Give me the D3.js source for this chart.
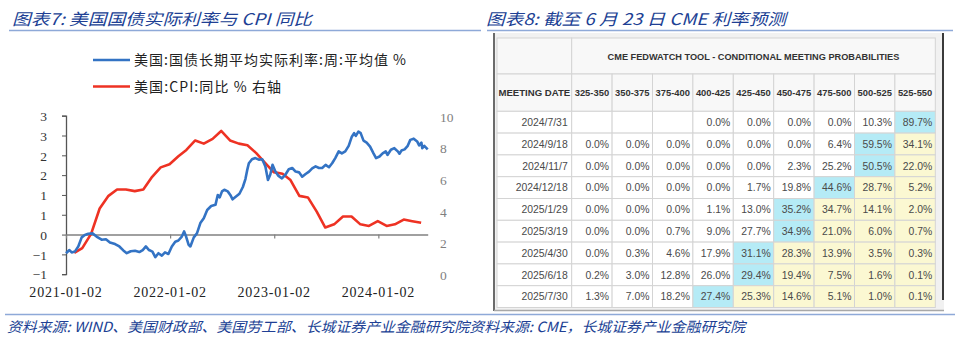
<!DOCTYPE html>
<html><head><meta charset="utf-8">
<script src="https://cdn.jsdelivr.net/npm/d3@7"></script>
<style>
body{margin:0;background:#fff;}
svg{display:block;}
</style></head>
<body><svg id="c" width="960" height="341"></svg>
<script>
// ---------- Left chart data ----------
const blueDates = ["2021-01-02","2021-01-14","2021-01-22","2021-02-02","2021-02-14","2021-02-26","2021-03-09","2021-03-21","2021-04-05","2021-04-19","2021-05-07","2021-05-22","2021-06-05","2021-06-23","2021-07-08","2021-07-22","2021-08-03","2021-08-17","2021-09-01","2021-09-16","2021-09-28","2021-10-09","2021-10-20","2021-11-01","2021-11-11","2021-11-22","2021-12-04","2021-12-15","2021-12-27","2022-01-08","2022-01-20","2022-01-31","2022-02-12","2022-02-20","2022-02-27","2022-03-08","2022-03-14","2022-03-26","2022-04-06","2022-04-18","2022-04-30","2022-05-12","2022-05-26","2022-06-10","2022-06-18","2022-06-25","2022-07-03","2022-07-11","2022-07-23","2022-08-01","2022-08-09","2022-08-21","2022-09-02","2022-09-14","2022-09-23","2022-09-29","2022-10-05","2022-10-16","2022-10-28","2022-11-09","2022-11-21","2022-12-02","2022-12-11","2022-12-19","2022-12-27","2023-01-06","2023-01-17","2023-01-29","2023-02-10","2023-02-22","2023-03-06","2023-03-18","2023-03-30","2023-04-10","2023-04-22","2023-05-04","2023-05-15","2023-05-27","2023-06-08","2023-06-19","2023-07-01","2023-07-13","2023-07-24","2023-08-04","2023-08-16","2023-08-27","2023-09-08","2023-09-20","2023-10-01","2023-10-09","2023-10-15","2023-10-24","2023-11-01","2023-11-11","2023-11-22","2023-12-04","2023-12-16","2023-12-25","2024-01-06","2024-01-17","2024-01-28","2024-02-03","2024-02-15","2024-02-27","2024-03-10","2024-03-16","2024-03-23","2024-04-03","2024-04-14","2024-04-23","2024-05-05","2024-05-17","2024-05-24","2024-06-01","2024-06-04","2024-06-11","2024-06-23"];
const blueValues = [-0.47,-0.39,-0.45,-0.43,-0.30,-0.07,-0.01,0.02,0.03,-0.05,-0.13,-0.12,-0.20,-0.24,-0.30,-0.40,-0.47,-0.42,-0.41,-0.44,-0.39,-0.30,-0.39,-0.43,-0.57,-0.47,-0.53,-0.45,-0.49,-0.30,-0.18,-0.15,-0.05,0.08,-0.05,-0.26,-0.30,-0.07,0.03,0.29,0.41,0.62,0.72,0.75,1.00,0.94,1.09,1.13,1.09,1.00,0.89,0.96,1.03,1.20,1.40,1.62,1.80,1.90,1.93,1.89,1.90,1.72,1.38,1.51,1.76,1.59,1.48,1.42,1.51,1.65,1.68,1.59,1.57,1.46,1.53,1.59,1.67,1.72,1.68,1.68,1.76,1.70,1.80,1.93,2.10,2.05,2.10,2.24,2.47,2.56,2.49,2.60,2.56,2.37,2.32,2.22,2.05,1.93,1.97,2.05,2.10,2.01,2.14,2.18,2.10,2.04,2.12,2.15,2.24,2.39,2.42,2.35,2.25,2.32,2.18,2.24,2.15];

const cpiDates = ["2021-01-31","2021-02-28","2021-03-31","2021-04-30","2021-05-31","2021-06-30","2021-07-31","2021-08-31","2021-09-30","2021-10-31","2021-11-30","2021-12-31","2022-01-31","2022-02-28","2022-03-31","2022-04-30","2022-05-31","2022-06-30","2022-07-31","2022-08-31","2022-09-30","2022-10-31","2022-11-30","2022-12-31","2023-01-31","2023-02-28","2023-03-31","2023-04-30","2023-05-31","2023-06-30","2023-07-31","2023-08-31","2023-09-30","2023-10-31","2023-11-30","2023-12-31","2024-01-31","2024-02-29","2024-03-31","2024-04-30","2024-05-31"];
const cpiValues = [1.4,1.7,2.6,4.2,5.0,5.4,5.4,5.3,5.4,6.2,6.8,7.0,7.5,7.9,8.5,8.3,8.6,9.1,8.5,8.3,8.2,7.7,7.1,6.5,6.4,6.0,5.0,4.9,4.0,3.0,3.2,3.7,3.7,3.2,3.1,3.4,3.1,3.2,3.5,3.4,3.3];

const xTickDates = ["2021-01-02","2022-01-02","2023-01-02","2024-01-02"];
const leftTickValues = [-1,-0.5,0,0.5,1,1.5,2,2.5,3];
const leftTickLabels = ["\u22121","\u22121","0","1","1","2","2","3","3"];
const rightTickValues = [0,2,4,6,8,10];
const legendLabels = ["美国:国债长期平均实际利率:周:平均值 %","美国:CPI:同比 % 右轴"];

// ---------- Right table data ----------
const tableTitle = "CME FEDWATCH TOOL - CONDITIONAL MEETING PROBABILITIES";
const firstHeader = "MEETING DATE";
const rateRanges = ["325-350","350-375","375-400","400-425","425-450","450-475","475-500","500-525","525-550"];
const meetingDates = ["2024/7/31","2024/9/18","2024/11/7","2024/12/18","2025/1/29","2025/3/19","2025/4/30","2025/6/18","2025/7/30"];
const probs = [
 [null,null,null,0.0,0.0,0.0,0.0,10.3,89.7],
 [0.0,0.0,0.0,0.0,0.0,0.0,6.4,59.5,34.1],
 [0.0,0.0,0.0,0.0,0.0,2.3,25.2,50.5,22.0],
 [0.0,0.0,0.0,0.0,1.7,19.8,44.6,28.7,5.2],
 [0.0,0.0,0.0,1.1,13.0,35.2,34.7,14.1,2.0],
 [0.0,0.0,0.7,9.0,27.7,34.9,21.0,6.0,0.7],
 [0.0,0.3,4.6,17.9,31.1,28.3,13.9,3.5,0.3],
 [0.2,3.0,12.8,26.0,29.4,19.4,7.5,1.6,0.1],
 [1.3,7.0,18.2,27.4,25.3,14.6,5.1,1.0,0.1]
];

const titles = ["图表7:  美国国债实际利率与 CPI 同比","图表8:  截至 6 月 23 日 CME 利率预测"];
const sourceText = "资料来源:  WIND、美国财政部、美国劳工部、长城证券产业金融研究院资料来源:  CME，长城证券产业金融研究院";

// ---------- Drawing ----------
const svg = d3.select("#c");
const cjk = "'Noto Sans CJK SC','Noto Sans',sans-serif";
const serif = "'Liberation Serif','DejaVu Serif',serif";
const navy = "#203f94";
const ruleCol = "#8ea9d8";

// titles
svg.append("text").attr("x",12).attr("y",25).text(titles[0])
  .attr("font-family",cjk).attr("font-size",16).attr("font-style","italic").attr("fill",navy)
  .attr("textLength",300).attr("lengthAdjust","spacingAndGlyphs");
svg.append("text").attr("x",486).attr("y",25).text(titles[1])
  .attr("font-family",cjk).attr("font-size",16).attr("font-style","italic").attr("fill",navy)
  .attr("textLength",300).attr("lengthAdjust","spacingAndGlyphs");
svg.append("line").attr("x1",9).attr("x2",481).attr("y1",30.5).attr("y2",30.5).attr("stroke",ruleCol).attr("stroke-width",1.5);
svg.append("line").attr("x1",487).attr("x2",953).attr("y1",30.5).attr("y2",30.5).attr("stroke",ruleCol).attr("stroke-width",1.5);
svg.append("line").attr("x1",5).attr("x2",955).attr("y1",314.5).attr("y2",314.5).attr("stroke",ruleCol).attr("stroke-width",1.5);
svg.append("text").attr("x",7).attr("y",332).text(sourceText)
  .attr("font-family",cjk).attr("font-size",14).attr("font-style","italic").attr("fill",navy)
  .attr("textLength",738).attr("lengthAdjust","spacingAndGlyphs");

// left chart
const parse = d3.timeParse("%Y-%m-%d");
const x = d3.scaleTime().domain([parse("2021-01-02"),parse("2024-06-23")]).range([66,427.7]);
const yL = d3.scaleLinear().domain([-1,3]).range([274.2,115.7]);
const yR = d3.scaleLinear().domain([0,10]).range([275,116.7]);

const g = svg.append("g");
// left axis
const axL = g.append("g").attr("transform","translate(66,0)")
  .call(d3.axisLeft(yL).tickValues(leftTickValues).tickSize(4).tickPadding(15)
    .tickFormat((d,i)=>leftTickLabels[i]));
axL.select(".domain").attr("stroke","#555").attr("stroke-width",1.3);
axL.selectAll(".tick line").attr("stroke","#555");
axL.selectAll("text").attr("font-family",serif).attr("font-size",13.5).attr("fill","#333").attr("x",-19).attr("dy","0.35em");
// right axis (labels only)
const axR = g.append("g").attr("transform","translate(440,0)")
  .call(d3.axisRight(yR).tickValues(rightTickValues).tickSize(0).tickPadding(0));
axR.select(".domain").remove();
axR.selectAll("text").attr("font-family",serif).attr("font-size",13.5).attr("fill","#7f7f7f").attr("text-anchor","start");
// x axis at zero
const axX = g.append("g").attr("transform",`translate(0,${yL(0)})`)
  .call(d3.axisBottom(x).tickValues(xTickDates.map(parse)).tickSize(4).tickSizeOuter(0).tickFormat(()=>""));
axX.select(".domain").attr("stroke","#808080").attr("stroke-width",1.5);
axX.selectAll(".tick line").attr("stroke","#808080").attr("stroke-width",1.2);
g.selectAll("text.xl").data(xTickDates).enter().append("text").attr("class","xl")
  .attr("x",d=>x(parse(d))).attr("y",297).attr("text-anchor","middle").text(d=>d)
  .attr("font-family",serif).attr("font-size",14).attr("letter-spacing",0.8).attr("fill","#222");

// lines
const blueData = blueDates.map((d,i)=>({d:parse(d),v:blueValues[i]}));
const cpiData = cpiDates.map((d,i)=>({d:parse(d),v:cpiValues[i]}));
g.append("path").datum(cpiData).attr("fill","none").attr("stroke","#ee3223").attr("stroke-width",2.6)
  .attr("stroke-linejoin","round").attr("d",d3.line().x(p=>x(p.d)).y(p=>yR(p.v)));
g.append("path").datum(blueData).attr("fill","none").attr("stroke","#3373c4").attr("stroke-width",2.6)
  .attr("stroke-linejoin","round").attr("d",d3.line().x(p=>x(p.d)).y(p=>yL(p.v)));

// legend
const legCols = ["#3373c4","#ee3223"];
const legLens = [272,147];
legendLabels.forEach((t,i)=>{
  const yy = 60 + i*26.5;
  svg.append("line").attr("x1",93).attr("x2",130).attr("y1",yy).attr("y2",yy).attr("stroke",legCols[i]).attr("stroke-width",2.6);
  svg.append("text").attr("x",134).attr("y",yy+5).text(t).attr("font-family",cjk).attr("font-size",14).attr("fill","#222")
    .attr("textLength",legLens[i]).attr("lengthAdjust","spacing");
});

// ---------- table ----------
const T = svg.append("g");
// outer frame
T.append("rect").attr("x",493).attr("y",33).attr("width",451).attr("height",278).attr("fill","#f1f1f1");
T.append("line").attr("x1",494).attr("x2",494).attr("y1",33).attr("y2",311).attr("stroke","#6b6b6b").attr("stroke-width",2);
T.append("line").attr("x1",943).attr("x2",943).attr("y1",33).attr("y2",300).attr("stroke","#3a3a3a").attr("stroke-width",2);
T.append("line").attr("x1",494).attr("x2",944).attr("y1",310.5).attr("y2",310.5).attr("stroke","#a8a8a8").attr("stroke-width",1.5);

const tx0 = 497, c0w = 74.7, cw = 40.4;
const h1y = 38, h1h = 36, h2h = 37.3, rh = 21.8;
const colX = i => tx0 + c0w + i*cw;
const rowY = r => h1y + h1h + h2h + r*rh;
const border = "#d4d4d4";
const blueFill = "#b5ebf6", yellowFill = "#fbf8d2";

T.append("rect").attr("x",tx0).attr("y",h1y).attr("width",c0w+9*cw).attr("height",h1h+h2h+9*rh).attr("fill","#fff");
// header row 1
T.append("rect").attr("x",tx0).attr("y",h1y).attr("width",c0w).attr("height",h1h).attr("fill","#f8f8f8").attr("stroke",border);
T.append("rect").attr("x",colX(0)).attr("y",h1y).attr("width",9*cw).attr("height",h1h).attr("fill","#f8f8f8").attr("stroke",border);
const hfont = "'Liberation Sans',Arial,sans-serif";
T.append("text").attr("x",colX(0)+4.5*cw).attr("y",h1y+h1h/2+3.5).attr("text-anchor","middle").text(tableTitle)
  .attr("font-family",hfont).attr("font-size",9.2).attr("font-weight","bold").attr("fill","#333");
// header row 2
const h2y = h1y+h1h;
T.append("rect").attr("x",tx0).attr("y",h2y).attr("width",c0w).attr("height",h2h).attr("fill","#f8f8f8").attr("stroke",border);
T.append("text").attr("x",tx0+c0w/2).attr("y",h2y+h2h/2+3.5).attr("text-anchor","middle").text(firstHeader)
  .attr("font-family",hfont).attr("font-size",9.6).attr("font-weight","bold").attr("fill","#333");
rateRanges.forEach((r,i)=>{
  T.append("rect").attr("x",colX(i)).attr("y",h2y).attr("width",cw).attr("height",h2h).attr("fill","#f8f8f8").attr("stroke",border);
  T.append("text").attr("x",colX(i)+cw/2).attr("y",h2y+h2h/2+3.5).attr("text-anchor","middle").text(r)
    .attr("font-family",hfont).attr("font-size",9.4).attr("font-weight","bold").attr("fill","#333");
});
// data rows
meetingDates.forEach((md,r)=>{
  const y0 = rowY(r);
  const row = probs[r];
  let maxI = 0; row.forEach((v,i)=>{ if(v!==null && v>row[maxI]) maxI=i; });
  T.append("rect").attr("x",tx0).attr("y",y0).attr("width",c0w).attr("height",rh).attr("fill","#fff").attr("stroke",border);
  T.append("text").attr("x",tx0+c0w-4).attr("y",y0+rh/2+3.8).attr("text-anchor","end").text(md)
    .attr("font-family",hfont).attr("font-size",10.4).attr("fill","#4a4a4a");
  row.forEach((v,i)=>{
    const fill = i===maxI ? blueFill : (i>maxI ? yellowFill : "#fff");
    T.append("rect").attr("x",colX(i)).attr("y",y0).attr("width",cw).attr("height",rh).attr("fill",fill).attr("stroke",border);
    if(v!==null){
      T.append("text").attr("x",colX(i)+cw-3).attr("y",y0+rh/2+3.8).attr("text-anchor","end").text(v.toFixed(1)+"%")
        .attr("font-family",hfont).attr("font-size",10.4).attr("fill","#4a4a4a");
    }
  });
});
</script>
</body></html>
